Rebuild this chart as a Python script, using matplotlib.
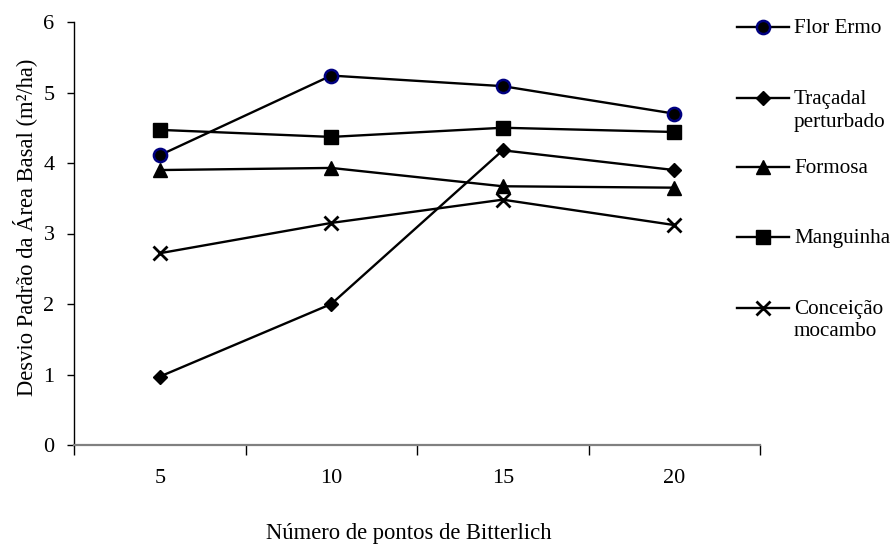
import matplotlib
matplotlib.use('Agg')
import matplotlib.pyplot as plt
from matplotlib.lines import Line2D
from matplotlib.ticker import FixedLocator

plt.rcParams['font.family'] = ['Liberation Serif', 'DejaVu Serif']

# pontos de Bitterlich
pontos = ['5', '10', '15', '20']
flor_ermo = [4.11, 5.24, 5.09, 4.70]
tracadal = [0.97, 2.00, 4.18, 3.90]
formosa = [3.90, 3.93, 3.67, 3.65]
manguinha = [4.47, 4.37, 4.50, 4.44]
conceicao = [2.72, 3.15, 3.48, 3.12]

series = [
    ('Flor Ermo', flor_ermo, dict(marker='o', ms=9.5, mfc='black', mec='#000080', mew=1.8)),
    ('Traçadal\nperturbado', tracadal, dict(marker='D', ms=7.5, mfc='black', mec='black', mew=1)),
    ('Formosa', formosa, dict(marker='^', ms=10.5, mfc='black', mec='black', mew=1)),
    ('Manguinha', manguinha, dict(marker='s', ms=10.5, mfc='black', mec='black', mew=1)),
    ('Conceição\nmocambo', conceicao, dict(marker='x', ms=10.5, mfc='black', mec='black', mew=2)),
]

W, H = 893, 546
fig = plt.figure(figsize=(W / 100, H / 100), dpi=100)
ax = fig.add_axes([74 / W, (H - 445) / H, (760 - 74) / W, (445 - 22) / H])

x = list(range(len(pontos)))
for nome, vals, st in series:
    ax.plot(x, vals, color='black', lw=1.7, **st)

ax.set_xlim(-0.5, len(pontos) - 0.5)
ax.set_ylim(0, 6)
ax.set_yticks(range(0, 7))
ax.set_xticks(x)
ax.set_xticklabels(pontos)
ax.xaxis.set_minor_locator(FixedLocator([i - 0.5 for i in range(len(pontos) + 1)]))

for s in ['top', 'right']:
    ax.spines[s].set_visible(False)
ax.spines['left'].set_color('black')
ax.spines['left'].set_linewidth(1.0)
ax.spines['bottom'].set_color('#808080')
ax.spines['bottom'].set_linewidth(1.6)

ax.tick_params(axis='y', direction='out', length=5, width=1, pad=9, labelsize=16)
ax.tick_params(axis='x', which='major', length=0, pad=17, labelsize=16)
ax.tick_params(axis='x', which='minor', direction='out', length=7, width=1, color='black')

fig.text(25 / W, 1 - 227 / H, 'Desvio Padrão da Área Basal (m²/ha)', rotation=90,
         ha='center', va='center', fontsize=16.3)
fig.text(409 / W, 1 - 534 / H, 'Número de pontos de Bitterlich',
         ha='center', va='center', fontsize=16.3)

# legenda desenhada a mão
leg_y = [27, 98, 167, 237, 308]
for (nome, vals, st), yy in zip(series, leg_y):
    fy = 1 - yy / H
    fig.add_artist(Line2D([737 / W, 789 / W], [fy, fy], color='black', lw=1.7,
                          transform=fig.transFigure))
    fig.add_artist(Line2D([763 / W], [fy], color='black', transform=fig.transFigure, **st))
    fig.text(794 / W, 1 - (yy - 8) / H, nome, ha='left', va='top', fontsize=15.2,
             linespacing=1.25)

fig.savefig('out.png', dpi=100)
